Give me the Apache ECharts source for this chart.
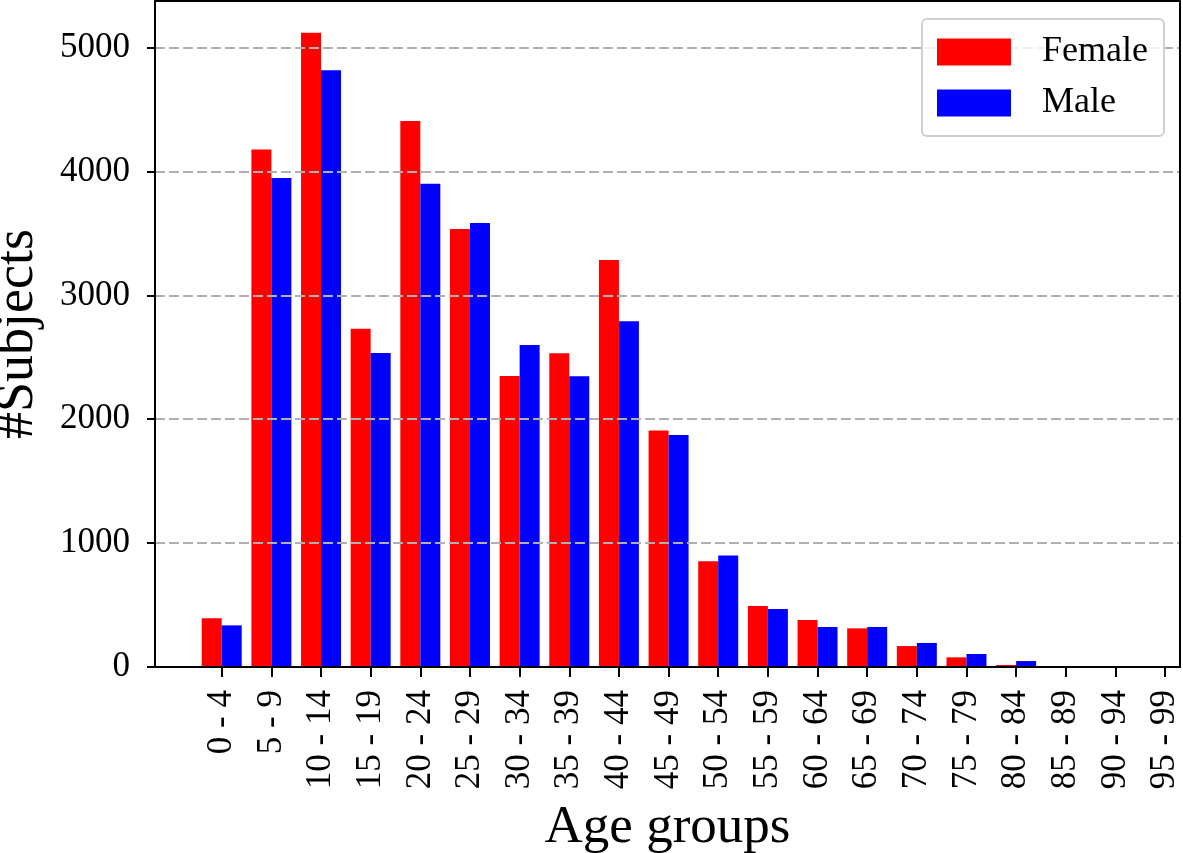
<!DOCTYPE html>
<html>
<head>
<meta charset="utf-8">
<script src="https://cdn.jsdelivr.net/npm/echarts@6/dist/echarts.min.js"></script>
<style>html,body{margin:0;padding:0;background:#fff}#c{width:1183px;height:853px}</style>
</head>
<body>
<div id="c"></div>
<script>
const categories = ['0 - 4','5 - 9','10 - 14','15 - 19','20 - 24','25 - 29','30 - 34','35 - 39','40 - 44','45 - 49','50 - 54','55 - 59','60 - 64','65 - 69','70 - 74','75 - 79','80 - 84','85 - 89','90 - 94','95 - 99'];
const female = [393, 4178, 5120, 2731, 4407, 3535, 2349, 2532, 3285, 1910, 853, 492, 379, 312, 169, 78, 16, 0, 0, 0];
const male   = [336, 3947, 4818, 2534, 3901, 3584, 2599, 2346, 2790, 1873, 901, 468, 323, 323, 194, 105, 48, 0, 0, 0];
const yTicks = [0, 1000, 2000, 3000, 4000, 5000];
const yMax = 5376;

const FONT = 'Liberation Serif';
const chart = echarts.init(document.getElementById('c'), null, {renderer: 'canvas'});
const gTop = 1, gBottom = 186;
const frameLine = {show: true, onZero: false, lineStyle: {color: '#000', width: 2}};
chart.setOption({
  animation: false,
  backgroundColor: '#fff',
  textStyle: {fontFamily: FONT},
  grid: [
    {left: 155, right: 3, top: gTop, bottom: gBottom, containLabel: false, outerBoundsMode: 'none'},
    {left: 196.9, right: -6.9, top: gTop, bottom: gBottom, containLabel: false, outerBoundsMode: 'none'}
  ],
  legend: {
    orient: 'vertical', left: 922, top: 19, z: 10,
    padding: [15, 16, 15, 15],
    itemWidth: 74, itemHeight: 27, itemGap: 15,
    borderColor: '#d0d0d0', borderWidth: 2, borderRadius: 5,
    backgroundColor: 'rgba(255,255,255,0.8)',
    textStyle: {fontFamily: FONT, fontSize: 36, color: '#000', padding: [0, 0, 0, 26]},
    data: [{name: 'Female', icon: 'rect'}, {name: 'Male', icon: 'rect'}]
  },
  xAxis: [
    {gridIndex: 0, type: 'value', min: 0, max: 1, position: 'bottom', z: 5,
     name: 'Age groups', nameLocation: 'middle', nameGap: 135,
     nameTextStyle: {fontFamily: FONT, fontSize: 53, color: '#000'},
     axisLine: frameLine,
     axisTick: {show: false}, axisLabel: {show: false}, splitLine: {show: false}},
    {gridIndex: 0, type: 'value', min: 0, max: 1, position: 'top', z: 5,
     axisLine: frameLine,
     axisTick: {show: false}, axisLabel: {show: false}, splitLine: {show: false}},
    {gridIndex: 1, type: 'category', data: categories, boundaryGap: true,
     axisLine: {show: false},
     axisTick: {show: true, alignWithLabel: true, length: 10, lineStyle: {color: '#000', width: 2}},
     axisLabel: {rotate: 90, interval: 0, margin: 23, fontFamily: FONT, fontSize: 35, color: '#000'},
     splitLine: {show: false}}
  ],
  yAxis: [
    {gridIndex: 0, type: 'value', min: 0, max: yMax, interval: 1000, position: 'left', z: 5,
     name: '#Subjects', nameLocation: 'middle', nameGap: 110,
     nameTextStyle: {fontFamily: FONT, fontSize: 54, color: '#000'},
     axisLine: frameLine,
     axisTick: {show: true, length: 8, customValues: yTicks, lineStyle: {color: '#000', width: 2}},
     axisLabel: {margin: 25, fontFamily: FONT, fontSize: 35, color: '#000', customValues: yTicks,
       formatter: v => String(v)},
     splitLine: {show: true, lineStyle: {color: '#b0b0b0', width: 2, type: [10, 4]}}},
    {gridIndex: 0, type: 'value', min: 0, max: yMax, position: 'right', z: 5,
     axisLine: frameLine,
     axisTick: {show: false}, axisLabel: {show: false}, splitLine: {show: false}},
    {gridIndex: 1, type: 'value', min: 0, max: yMax, show: false}
  ],
  series: [
    {name: 'Female', type: 'bar', xAxisIndex: 2, yAxisIndex: 2, data: female,
     barWidth: 20, barGap: '0%', itemStyle: {color: '#ff0000'}},
    {name: 'Male', type: 'bar', xAxisIndex: 2, yAxisIndex: 2, data: male,
     barWidth: 20, barGap: '0%', itemStyle: {color: '#0000ff'}}
  ]
});
</script>
</body>
</html>
